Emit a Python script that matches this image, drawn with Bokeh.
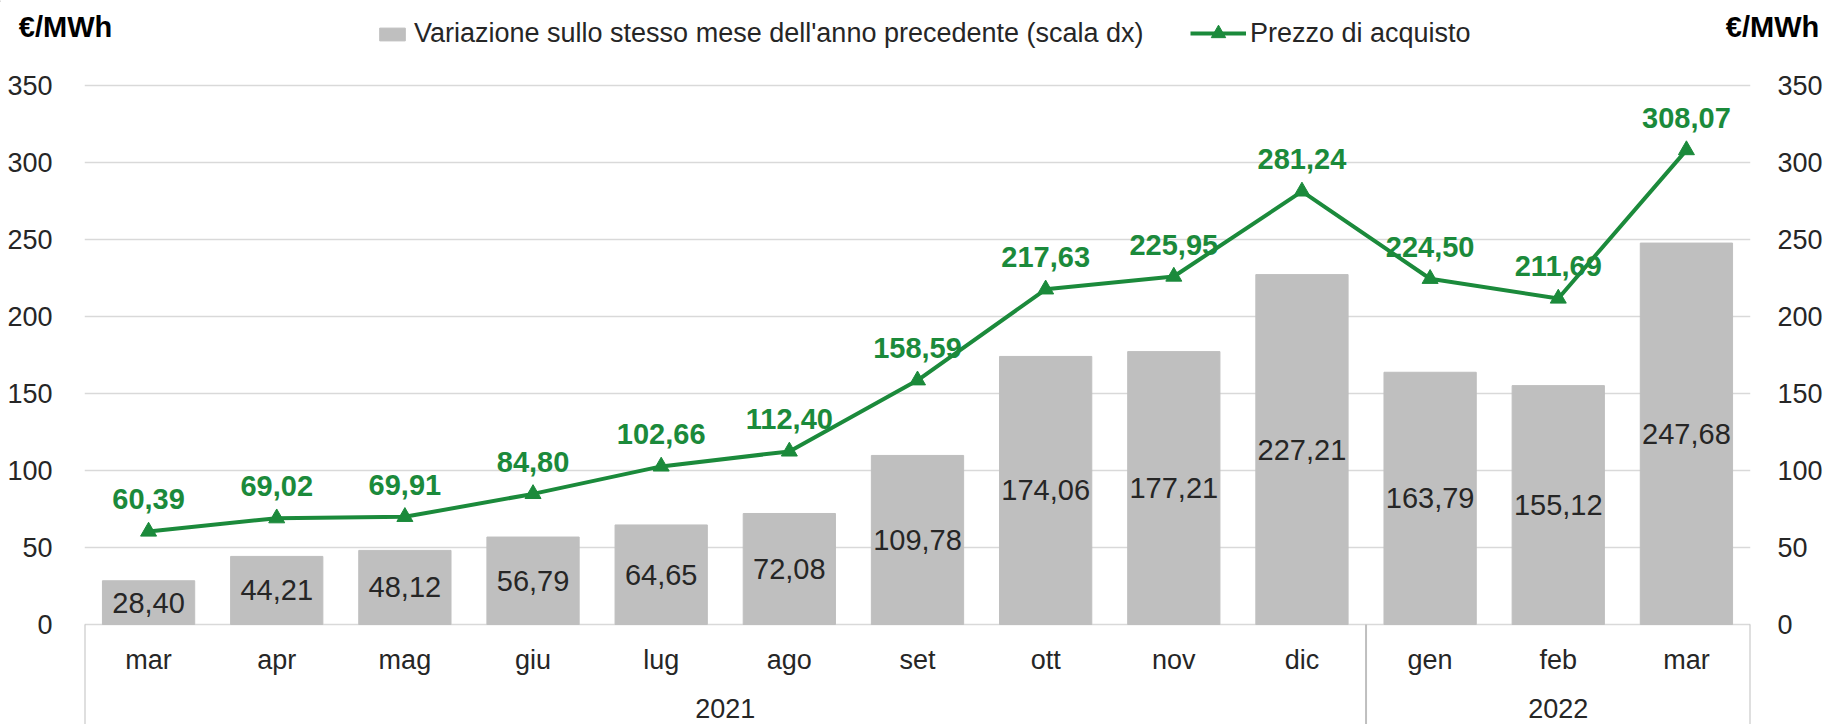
from bokeh.plotting import figure
from bokeh.layouts import column
from bokeh.models import (FactorRange, Range1d, LinearAxis, FixedTicker, Legend,
                          LegendItem, Label, ColumnDataSource)
from bokeh.core.properties import value
from bokeh.embed import file_html
from bokeh.resources import INLINE

# ---------------- data ----------------
years = ["2021"] * 10 + ["2022"] * 3
months = ["mar", "apr", "mag", "giu", "lug", "ago", "set", "ott", "nov", "dic",
          "gen", "feb", "mar"]
variazione = [28.40, 44.21, 48.12, 56.79, 64.65, 72.08, 109.78, 174.06, 177.21,
              227.21, 163.79, 155.12, 247.68]
prezzo = [60.39, 69.02, 69.91, 84.80, 102.66, 112.40, 158.59, 217.63, 225.95,
          281.24, 224.50, 211.69, 308.07]
y_ticks = [0, 50, 100, 150, 200, 250, 300, 350]
year_labels = ["2021", "2022"]
unit = "€/MWh"
bar_name = "Variazione sullo stesso mese dell'anno precedente (scala dx)"
line_name = "Prezzo di acquisto"

# ---------------- layout / style ----------------
FONT = "Liberation Sans"
GREEN = "#1B8A3B"
GREY = "#BFBFBF"
TXT = "#262626"
W, H = 1829, 724
HH = 62                     # header strip (legend + unit captions)
MH = H - HH                 # main chart height
FL, FR = 84, 1750           # frame left / right
FT, FB = 85 - HH, 624 - HH  # rows of y=350 and y=0 inside the main chart
PX = (FB - FT) / 350.0
ymin = -(MH - FB) / PX
ymax = 350 + FT / PX
y_month = -(659 - 624) / PX
y_year = -(708 - 624) / PX

factors = list(zip(years, months))


def fmt(v):
    return f"{v:.2f}".replace(".", ",")


src = ColumnDataSource(dict(
    x=factors,
    var=variazione,
    half=[v / 2 for v in variazione],
    var_lbl=[fmt(v) for v in variazione],
    prezzo=prezzo,
    prezzo_lbl=[fmt(v) for v in prezzo],
    month=months,
))

# ---------------- main chart ----------------
p = figure(width=W, height=MH,
           x_range=FactorRange(*factors, factor_padding=0, group_padding=0,
                               range_padding=0),
           y_range=Range1d(ymin, ymax),
           output_backend="svg", toolbar_location=None,
           min_border_left=FL, min_border_right=W - FR, min_border_top=0,
           min_border_bottom=0, outline_line_color=None, frame_align=False)
p.extra_y_ranges = {"dx": Range1d(ymin, ymax)}

p.xaxis.visible = False
p.xgrid.visible = False
ticker = FixedTicker(ticks=y_ticks)
p.ygrid.ticker = ticker
p.ygrid.grid_line_color = "#D9D9D9"
p.ygrid.grid_line_width = 1.5

ax = p.yaxis[0]
ax.ticker = ticker
ax.axis_line_color = None
ax.major_tick_line_color = None
ax.minor_tick_line_color = None
ax.major_label_standoff = 26
ax.major_label_text_font = FONT
ax.major_label_text_font_size = "27px"
ax.major_label_text_color = TXT

rax = LinearAxis(y_range_name="dx", ticker=FixedTicker(ticks=y_ticks),
                 axis_line_color=None, major_tick_line_color=None,
                 minor_tick_line_color=None, major_label_standoff=21,
                 major_label_text_font=FONT, major_label_text_font_size="27px",
                 major_label_text_color=TXT)
p.add_layout(rax, "right")

# bars (right scale)
bars = p.vbar(x="x", top="var", width=0.72, source=src, color=GREY,
              y_range_name="dx")
p.text(x="x", y="half", text="var_lbl", source=src, y_range_name="dx",
       text_align="center", text_baseline="middle", text_font=value(FONT),
       text_font_size="29px", text_color=TXT)

# line (left scale)
ln = p.line(x="x", y="prezzo", source=src, color=GREEN, line_width=4)
mk = p.scatter(x="x", y="prezzo", source=src, marker="triangle", size=16,
               color=GREEN)
p.text(x="x", y="prezzo", text="prezzo_lbl", source=src, y_offset=-32,
       text_align="center", text_baseline="middle", text_font=value(FONT),
       text_font_size="29px", text_font_style="bold", text_color=GREEN)

# category axis (months + years) and separators
p.text(x="x", y=y_month, text="month", source=src, text_align="center",
       text_baseline="middle", text_font=value(FONT), text_font_size="27px",
       text_color=TXT)
p.text(x=year_labels, y=[y_year] * len(year_labels), text=year_labels,
       text_align="center", text_baseline="middle", text_font=value(FONT),
       text_font_size="27px", text_color=TXT)
sep_x = [(years[0], months[0], -0.5), (years[10], months[10], -0.5),
         (years[-1], months[-1], 0.5)]
p.segment(x0=sep_x, y0=[0] * 3, x1=sep_x, y1=[ymin] * 3, color="#BFBFBF",
          line_width=2)

# ---------------- header strip: legend + unit captions ----------------
hdr = figure(width=W, height=HH, x_range=Range1d(0, W), y_range=Range1d(HH, 0),
             output_backend="svg", toolbar_location=None, min_border=0,
             outline_line_color=None, frame_align=False)
hdr.axis.visible = False
hdr.grid.visible = False

# legend keys styled exactly like the chart's renderers (kept outside the view)
k_bar = hdr.vbar(x=[-100], top=[1], width=1, color=GREY)
k_line = hdr.line(x=[-100, -99], y=[1, 1], color=GREEN, line_width=4)
k_mark = hdr.scatter(x=[-100], y=[1], marker="triangle", size=16, color=GREEN)

common = dict(padding=0, margin=0, border_line_alpha=0, background_fill_alpha=0,
              label_text_font=FONT, label_text_color=TXT,
              label_text_font_size="27px")
leg1 = Legend(items=[LegendItem(label=bar_name, renderers=[k_bar])],
              location=(376, HH - 49), glyph_width=32, glyph_height=16,
              label_standoff=6, **common)
leg2 = Legend(items=[LegendItem(label=line_name, renderers=[k_line, k_mark])],
              location=(1190, HH - 51), glyph_width=56, glyph_height=36,
              label_standoff=4, **common)
hdr.add_layout(leg1, "center")
hdr.add_layout(leg2, "center")

for xc in (65, 1772):
    hdr.add_layout(Label(x=xc, y=26, text=unit, text_align="center",
                         text_baseline="middle", text_font=FONT,
                         text_font_size="29px", text_font_style="bold",
                         text_color="#000000"))

layout = column(hdr, p, spacing=0)
open("out.html", "w").write(file_html(layout, INLINE))
